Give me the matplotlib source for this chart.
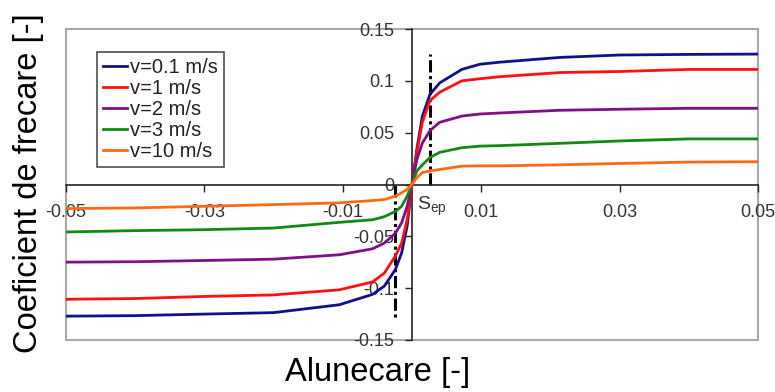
import matplotlib
matplotlib.use("Agg")
import matplotlib.pyplot as plt
from matplotlib.patches import Rectangle

plt.rcParams['font.family'] = ['Liberation Sans', 'DejaVu Sans']

slip = [-0.05, -0.04, -0.03, -0.02, -0.0105, -0.0057, -0.004, -0.0024, -0.0015, -0.0007, 0,
        0.0007, 0.0015, 0.0026, 0.004, 0.0072, 0.0098, 0.0127, 0.0214, 0.03, 0.04, 0.05]

mu_v01 = [-0.127, -0.1265, -0.125, -0.1236, -0.116, -0.106, -0.098, -0.082, -0.066, -0.040, 0,
          0.034, 0.066, 0.087, 0.098, 0.111, 0.116, 0.118, 0.1226, 0.1249, 0.1255, 0.1258]
mu_v1 = [-0.1107, -0.110, -0.108, -0.1065, -0.1016, -0.094, -0.0855, -0.069, -0.0565, -0.034, 0,
         0.031, 0.060, 0.081, 0.089, 0.100, 0.102, 0.104, 0.108, 0.109, 0.111, 0.111]
mu_v2 = [-0.0749, -0.0745, -0.0733, -0.072, -0.0678, -0.062, -0.0565, -0.047, -0.037, -0.021, 0,
         0.024, 0.040, 0.052, 0.060, 0.066, 0.068, 0.069, 0.0716, 0.0726, 0.0735, 0.0735]
mu_v3 = [-0.0458, -0.0445, -0.0436, -0.042, -0.0365, -0.034, -0.031, -0.026, -0.021, -0.0113, 0,
         0.013, 0.019, 0.026, 0.031, 0.0355, 0.037, 0.0375, 0.0397, 0.042, 0.044, 0.044]
mu_v10 = [-0.0232, -0.0226, -0.021, -0.0194, -0.0177, -0.0155, -0.0145, -0.0113, -0.008, -0.0048, 0,
          0.0065, 0.0116, 0.013, 0.0145, 0.0177, 0.018, 0.018, 0.019, 0.0203, 0.0216, 0.022]

series_labels = ['v=0.1 m/s', 'v=1 m/s', 'v=2 m/s', 'v=3 m/s', 'v=10 m/s']
series_colors = ['#10108a', '#ff1010', '#800e86', '#108a10', '#ff6a10']

sep_x = [-0.0024, 0.0026]
sep_y = [-0.1275, 0.126]

xticks = [-0.05, -0.03, -0.01, 0.01, 0.03, 0.05]
xticklabels = ['-0.05', '-0.03', '-0.01', '0.01', '0.03', '0.05']
yticks = [-0.15, -0.1, -0.05, 0, 0.05, 0.1, 0.15]
yticklabels = ['-0.15', '-0.1', '-0.05', '0', '0.05', '0.1', '0.15']

fig = plt.figure(figsize=(7.75, 3.92), dpi=100)
ax = fig.add_axes([66 / 775, 1 - 340 / 392, 692 / 775, 311 / 392])
ax.set_xlim(-0.05, 0.05)
ax.set_ylim(-0.15, 0.15)

for ys, lab, col in zip([mu_v01, mu_v1, mu_v2, mu_v3, mu_v10], series_labels, series_colors):
    ax.plot(slip, ys, color=col, lw=2.0, label=lab, zorder=3)

for sx, sy in zip(sep_x, sep_y):
    ax.plot([sx, sx], [0, sy], color='black', lw=2.2, ls=(0, (4, 1.2, 1, 1.2)), zorder=2)

ax.spines['left'].set_position('zero')
ax.spines['bottom'].set_position('zero')
ax.spines['top'].set_visible(False)
ax.spines['right'].set_visible(False)
for s in ['left', 'bottom']:
    ax.spines[s].set_color('#222222')
    ax.spines[s].set_linewidth(1.2)

ax.add_patch(Rectangle((0, 0), 1, 1, transform=ax.transAxes, fill=False,
                       edgecolor='#a8a8a8', lw=1.5, clip_on=False, zorder=1))

ax.set_xticks(xticks)
ax.set_xticklabels(xticklabels)
ax.set_yticks(yticks)
ax.set_yticklabels(yticklabels)
ax.tick_params(axis='x', direction='out', length=5, width=1, pad=9, labelsize=13, colors='#222222')
ax.tick_params(axis='y', direction='out', length=5, width=1, pad=8, labelsize=13, colors='#222222')
for t in ax.get_xticklabels() + ax.get_yticklabels():
    t.set_color('#333333')

ax.text(0.0029, -0.010, r'$\mathregular{S_{ep}}$', fontsize=14, color='#333333',
        ha='center', va='top')

leg = ax.legend(loc='upper left', bbox_to_anchor=(31 / 692, 1 - 23 / 311), frameon=True,
                fancybox=False, edgecolor='#222222', fontsize=14.5, handlelength=1.2,
                handletextpad=0.15, labelspacing=0.1, borderpad=0.3, borderaxespad=0)
leg.get_frame().set_linewidth(1.2)
for t in leg.get_texts():
    t.set_color('#222222')

fig.text(378 / 775, 1 - 373 / 392, 'Alunecare [-]', fontsize=23.5, ha='center', va='center')
fig.text(29 / 775, 1 - 183 / 392, 'Coeficient de frecare [-]', fontsize=23.5, ha='center',
         va='center', rotation=90)

fig.savefig('out.png', dpi=100)
